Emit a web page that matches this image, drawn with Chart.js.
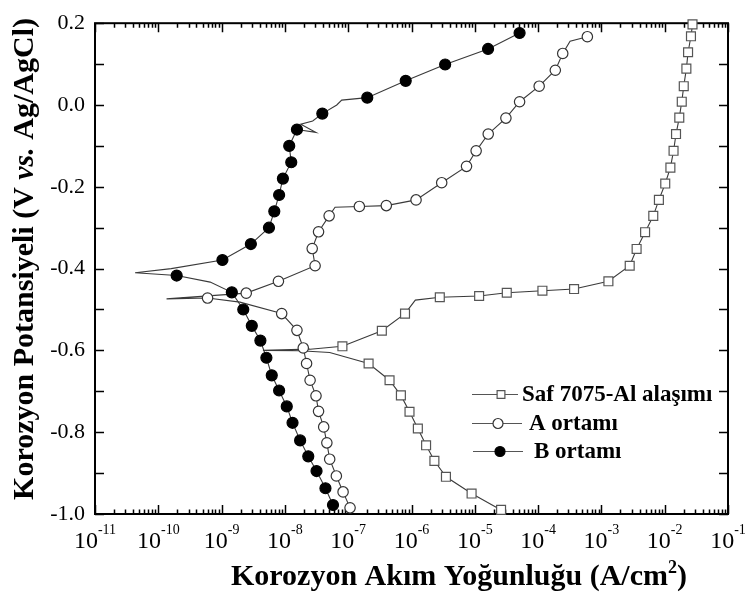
<!DOCTYPE html>
<html><head><meta charset="utf-8">
<script src="https://cdn.jsdelivr.net/npm/chart.js@4/dist/chart.umd.min.js"></script>
<style>html,body{margin:0;padding:0;background:#fff}#wrap{width:747px;height:594px}</style>
</head><body><div id="wrap"><canvas id="c" width="747" height="594"></canvas></div>
<script>
// ---- data (current density A/cm2, potential V vs Ag/AgCl) ----
const safLabel = 'Saf 7075-Al alaşımı';
const safI = [2.6e-5, 8.9e-6, 3.5e-6, 2.3e-6, 1.7e-6, 1.26e-6, 9.3e-7, 6.8e-7, 4.5e-7, 2.1e-7, 5.1e-8, 1.74e-8, 4.5e-9, 2.5e-8, 8.1e-8, 3.4e-7, 7.9e-7, 1.15e-6, 2.8e-6, 1.17e-5, 3.2e-5, 1.17e-4, 3.7e-4, 1.29e-3, 2.8e-3, 3.6e-3, 4.9e-3, 6.6e-3, 8.1e-3, 1.02e-2, 1.23e-2, 1.38e-2, 1.51e-2, 1.70e-2, 1.86e-2, 2.0e-2, 2.2e-2, 2.34e-2, 2.6e-2, 2.75e-2];
const safE = [-0.99, -0.95, -0.909, -0.87, -0.832, -0.791, -0.75, -0.71, -0.673, -0.632, -0.605, -0.601, -0.60, -0.597, -0.59, -0.552, -0.51, -0.477, -0.47, -0.467, -0.459, -0.454, -0.45, -0.431, -0.393, -0.352, -0.311, -0.271, -0.232, -0.192, -0.153, -0.112, -0.071, -0.031, 0.008, 0.046, 0.089, 0.129, 0.168, 0.197];
const safBends = [10, 11, 12, 13, 17];   // curve points without a marker

const aLabel = 'A ortamı';
const aI = [1.07e-7, 8.3e-8, 6.5e-8, 5.1e-8, 4.6e-8, 4.1e-8, 3.4e-8, 3.1e-8, 2.5e-8, 2.2e-8, 1.95e-8, 1.55e-8, 8.9e-9, 1.95e-9, 6.0e-10, 1.35e-10, 2.45e-9, 7.9e-9, 3.0e-8, 2.7e-8, 3.4e-8, 5.0e-8, 6.2e-8, 1.5e-7, 4.0e-7, 1.18e-6, 3.0e-6, 7.4e-6, 1.05e-5, 1.63e-5, 3.1e-5, 5.1e-5, 1.04e-4, 1.87e-4, 2.45e-4, 3.2e-4, 6.0e-4];
const aE = [-0.985, -0.946, -0.907, -0.866, -0.826, -0.787, -0.749, -0.711, -0.673, -0.632, -0.594, -0.551, -0.51, -0.482, -0.472, -0.474, -0.46, -0.431, -0.393, -0.351, -0.31, -0.271, -0.25, -0.248, -0.246, -0.232, -0.19, -0.15, -0.112, -0.071, -0.032, 0.008, 0.046, 0.085, 0.126, 0.156, 0.167];
const aBends = [13, 15, 22, 35];

const bLabel = 'B ortamı';
const bI = [5.75e-8, 4.37e-8, 3.16e-8, 2.34e-8, 1.74e-8, 1.32e-8, 1.07e-8, 8.1e-9, 6.2e-9, 5.1e-9, 4.1e-9, 3.0e-9, 2.2e-9, 1.45e-9, 6.6e-10, 1.95e-10, 4.3e-11, 1.6e-10, 1.03e-9, 2.9e-9, 5.6e-9, 6.8e-9, 8.1e-9, 9.3e-9, 1.26e-8, 1.17e-8, 1.55e-8, 3.1e-8, 1.78e-8, 2.75e-8, 3.9e-8, 6.6e-8, 7.9e-8, 2.0e-7, 8.1e-7, 3.4e-6, 1.62e-5, 5.1e-5];
const bE = [-0.978, -0.937, -0.895, -0.859, -0.82, -0.777, -0.737, -0.698, -0.661, -0.618, -0.576, -0.54, -0.50, -0.458, -0.433, -0.417, -0.41, -0.40, -0.379, -0.34, -0.30, -0.26, -0.22, -0.18, -0.14, -0.10, -0.06, -0.067, -0.047, -0.039, -0.021, 0.0, 0.012, 0.018, 0.059, 0.099, 0.137, 0.176];
const bBends = [14, 16, 17, 27, 28, 29, 31, 32];

const xTickExponents = [-11, -10, -9, -8, -7, -6, -5, -4, -3, -2, -1];
const yTickValues = [-1.0, -0.8, -0.6, -0.4, -0.2, 0.0, 0.2];
const xTitleMain = 'Korozyon Akım Yoğunluğu (A/cm';
const xTitleSup = '2';
const xTitleEnd = ')';
const yTitleParts = [['Korozyon Potansiyeli (V ', false], ['vs.', true], [' Ag/AgCl)', false]];

// ---- build ----
const toPts = (I, E) => I.map((v, i) => ({x: v, y: E[i]}));
const SERIF = '"Liberation Serif", "Times New Roman", serif';

function series(label, I, E, bends, style, r, fill, stroke, order) {
  return {
    label, data: toPts(I, E), showLine: true, borderColor: '#3a3a3a', borderWidth: 1.1,
    tension: 0, pointStyle: style,
    pointRadius: ctx => bends.includes(ctx.dataIndex) ? 0 : r,
    pointBackgroundColor: fill, pointBorderColor: stroke, pointBorderWidth: 1.2,
    clip: false, order
  };
}

const decor = {
  id: 'decor',
  beforeDatasetsDraw(chart) {
    const {ctx, chartArea: a, scales: {x, y}} = chart;
    ctx.save();
    ctx.strokeStyle = '#000';
    ctx.lineWidth = 2;
    ctx.strokeRect(a.left, a.top, a.right - a.left, a.bottom - a.top);
    ctx.lineWidth = 1.5;
    ctx.beginPath();
    for (let e = -11; e <= -1; e++) {
      for (let m = 1; m <= 9; m++) {
        if (e === -1 && m > 1) break;
        const px = Math.round(x.getPixelForValue(m * Math.pow(10, e))) + 0.5;
        const L = m === 1 ? 9 : 4.5;
        ctx.moveTo(px, a.bottom); ctx.lineTo(px, a.bottom - L);
        ctx.moveTo(px, a.top); ctx.lineTo(px, a.top + L);
      }
    }
    for (let k = 0; k <= 12; k++) {
      const v = -1.0 + k * 0.1;
      const py = Math.round(y.getPixelForValue(v)) + 0.5;
      ctx.moveTo(a.left, py); ctx.lineTo(a.left + 9, py);
      ctx.moveTo(a.right, py); ctx.lineTo(a.right - 9, py);
    }
    ctx.stroke();
    ctx.restore();
  },
  afterDraw(chart) {
    const {ctx, chartArea: a, scales: {x}} = chart;
    ctx.save();
    ctx.fillStyle = '#000';
    ctx.textBaseline = 'alphabetic';
    ctx.textAlign = 'left';
    // x tick labels with superscript exponents
    xTickExponents.forEach(e => {
      const px = x.getPixelForValue(Math.pow(10, e));
      ctx.font = '24px ' + SERIF;
      const w1 = ctx.measureText('10').width;
      ctx.font = '14px ' + SERIF;
      const sup = String(e);
      const w2 = ctx.measureText(sup).width;
      const x0 = px - (w1 + w2) / 2;
      ctx.font = '24px ' + SERIF;
      ctx.fillText('10', x0, a.bottom + 34);
      ctx.font = '14px ' + SERIF;
      ctx.fillText(sup, x0 + w1, a.bottom + 20);
    });
    // x title
    ctx.font = 'bold 30px ' + SERIF;
    const t1 = ctx.measureText(xTitleMain).width;
    const t3 = ctx.measureText(xTitleEnd).width;
    ctx.font = 'bold 18px ' + SERIF;
    const t2 = ctx.measureText(xTitleSup).width;
    let tx = 459 - (t1 + t2 + t3) / 2;
    const ty = 585;
    ctx.font = 'bold 30px ' + SERIF;
    ctx.fillText(xTitleMain, tx, ty);
    ctx.font = 'bold 18px ' + SERIF;
    ctx.fillText(xTitleSup, tx + t1, ty - 12);
    ctx.font = 'bold 30px ' + SERIF;
    ctx.fillText(xTitleEnd, tx + t1 + t2, ty);
    // y title (rotated, "vs." italic)
    const fonts = yTitleParts.map(p => (p[1] ? 'italic bold 30px ' : 'bold 30px ') + SERIF);
    const widths = yTitleParts.map((p, i) => { ctx.font = fonts[i]; return ctx.measureText(p[0]).width; });
    const total = widths.reduce((s, w) => s + w, 0);
    ctx.save();
    ctx.translate(33, 259);
    ctx.rotate(-Math.PI / 2);
    let cx = -total / 2;
    yTitleParts.forEach((p, i) => { ctx.font = fonts[i]; ctx.fillText(p[0], cx, 0); cx += widths[i]; });
    ctx.restore();
    // legend
    const rows = [
      {ds: 0, y: 394, l0: 472, l1: 518, mx: 501, tx: 522},
      {ds: 1, y: 423, l0: 472, l1: 522, mx: 498, tx: 529},
      {ds: 2, y: 451, l0: 473, l1: 523, mx: 500, tx: 534}
    ];
    rows.forEach(r => {
      const d = chart.data.datasets[r.ds];
      ctx.strokeStyle = '#555';
      ctx.lineWidth = 1.1;
      ctx.beginPath(); ctx.moveTo(r.l0, r.y + 0.5); ctx.lineTo(r.l1, r.y + 0.5); ctx.stroke();
      const rad = d.pointStyle === 'rect' ? 5.5 : 5;
      ctx.fillStyle = d.pointBackgroundColor;
      ctx.strokeStyle = d.pointBorderColor;
      ctx.lineWidth = 1.2;
      Chart.helpers.drawPoint(ctx, {pointStyle: d.pointStyle, radius: rad, borderWidth: 1.2}, r.mx, r.y + 0.5);
      ctx.fillStyle = '#000';
      ctx.font = 'bold 23px ' + SERIF;
      ctx.fillText(d.label, r.tx, r.y + 7);
    });
    ctx.restore();
  }
};

new Chart(document.getElementById('c'), {
  type: 'scatter',
  data: {
    datasets: [
      series(safLabel, safI, safE, safBends, 'rect', 6.3, '#fff', '#555', 3),
      series(aLabel, aI, aE, aBends, 'circle', 5.2, '#fff', '#333', 2),
      series(bLabel, bI, bE, bBends, 'circle', 5.5, '#000', '#000', 1)
    ]
  },
  options: {
    responsive: false,
    animation: false,
    events: [],
    layout: {padding: {top: 22, right: 19, left: 0, bottom: 0}},
    plugins: {legend: {display: false}, tooltip: {enabled: false}},
    scales: {
      x: {
        type: 'logarithmic', min: 1e-11, max: 1e-1,
        grid: {display: false}, border: {display: false},
        ticks: {display: false},
        afterFit: s => { s.height = 80; }
      },
      y: {
        type: 'linear', min: -1.0, max: 0.2,
        grid: {display: false, drawTicks: false}, border: {display: false},
        afterBuildTicks: s => { s.ticks = yTickValues.map(v => ({value: v})); },
        ticks: {
          padding: 10, color: '#000',
          font: {family: SERIF, size: 22},
          callback: v => (Math.abs(v) < 1e-9 ? 0 : v).toFixed(1)
        },
        afterFit: s => { s.width = 95; }
      }
    }
  },
  plugins: [decor]
});
</script>
</body></html>
